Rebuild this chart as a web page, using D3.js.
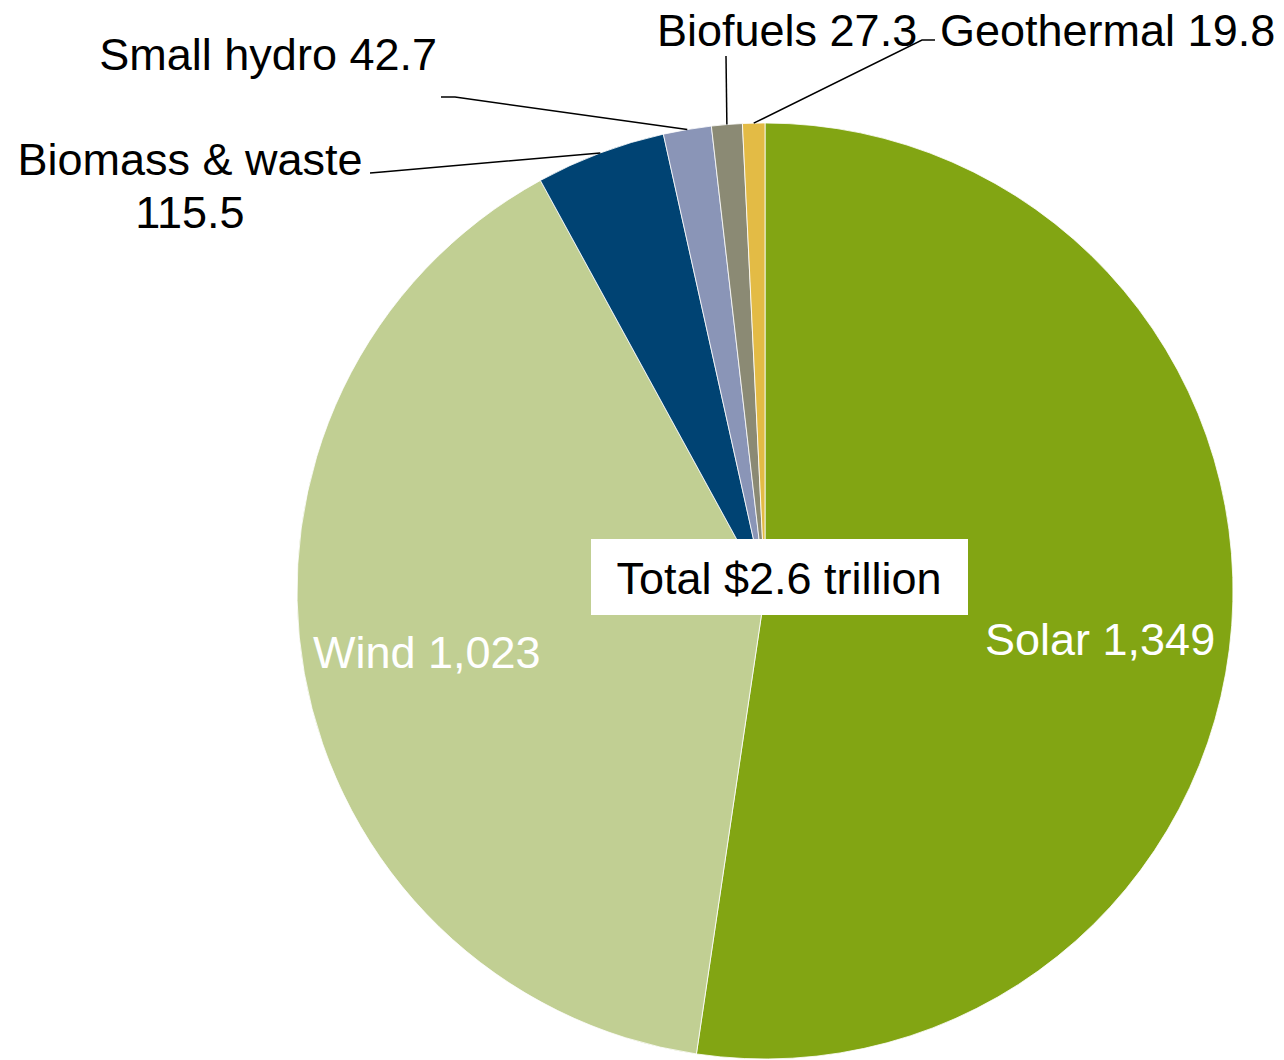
<!DOCTYPE html>
<meta charset="utf-8">
<html>
  <head>
    <title>Renewable investment pie</title>
    <script src="https://d3js.org/d3.v7.min.js"></script>
    <style>
      body { margin: 0; background: #fff; }
      text { font-family: "Liberation Sans", Arial, sans-serif; }
    </style>
  </head>
  <body>
    <div id="chart"></div>
  </body>
  <script>
    var width = 1284,
        height = 1060,
        radius = 468,
        cx = 765, cy = 591;

    // data (US$ bn)
    var sources = ["Solar", "Wind", "Biomass & waste", "Small hydro", "Biofuels", "Geothermal"];
    var values = [1349, 1023, 115.5, 42.7, 27.3, 19.8];
    var valueLabels = ["1,349", "1,023", "115.5", "42.7", "27.3", "19.8"];
    var colors = ["#82a513", "#c1cf93", "#004373", "#8a95b7", "#8b8a74", "#e3bb45"];
    var totalLabel = "Total $2.6 trillion";

    var svg = d3.select("#chart").append("svg")
      .attr("width", width)
      .attr("height", height);

    var g = svg.append("g").attr("transform", "translate(" + cx + "," + cy + ")");

    var pie = d3.pie().sort(null).value(function(d){ return d; });
    var arcs = pie(values);
    var arc = d3.arc().innerRadius(0).outerRadius(radius);

    g.selectAll("path")
      .data(arcs)
      .enter().append("path")
      .attr("d", arc)
      .attr("fill", function(d, i){ return colors[i]; })
      .attr("stroke", "#fff")
      .attr("stroke-width", 0.8);

    // point on outer edge at slice middle
    function edgePoint(d) {
      var a = (d.startAngle + d.endAngle) / 2;
      return [cx + radius * Math.sin(a), cy - radius * Math.cos(a)];
    }

    // label placement for the small slices (index -> text lines and leader elbow)
    var outside = [
      {i: 2, lines: [{t: sources[2], x: 190, y: 175}, {t: valueLabels[2], x: 190, y: 228}], anchor: "middle", leader: [[382, 172], [370, 173]]},
      {i: 3, lines: [{t: sources[3] + " " + valueLabels[3], x: 437, y: 70}], anchor: "end", leader: [[455, 97], [441, 97]]},
      {i: 4, lines: [{t: sources[4] + " " + valueLabels[4], x: 657, y: 46}], anchor: "start", leader: [[726, 56]]},
      {i: 5, lines: [{t: sources[5] + " " + valueLabels[5], x: 940, y: 46}], anchor: "start", leader: [[922, 40], [935, 40]]}
    ];

    var line = d3.line();
    outside.forEach(function(o){
      var pts = [edgePoint(arcs[o.i])].concat(o.leader);
      svg.append("path")
        .attr("d", line(pts))
        .attr("fill", "none")
        .attr("stroke", "#000")
        .attr("stroke-width", 1.5);
      o.lines.forEach(function(l){
        svg.append("text")
          .attr("x", l.x)
          .attr("y", l.y)
          .attr("text-anchor", o.anchor)
          .style("font-size", "45px")
          .attr("fill", "#000")
          .text(l.t);
      });
    });

    // inside labels
    svg.append("text")
      .attr("x", 985).attr("y", 655)
      .style("font-size", "45px")
      .attr("fill", "#fff")
      .text(sources[0] + " " + valueLabels[0]);
    svg.append("text")
      .attr("x", 313).attr("y", 668)
      .style("font-size", "45px")
      .attr("fill", "#fff")
      .text(sources[1] + " " + valueLabels[1]);

    // total box
    svg.append("rect")
      .attr("x", 591).attr("y", 539)
      .attr("width", 377).attr("height", 76)
      .attr("fill", "#fff");
    svg.append("text")
      .attr("x", 779).attr("y", 594)
      .attr("text-anchor", "middle")
      .style("font-size", "45px")
      .attr("fill", "#000")
      .text(totalLabel);
  </script>
</html>
